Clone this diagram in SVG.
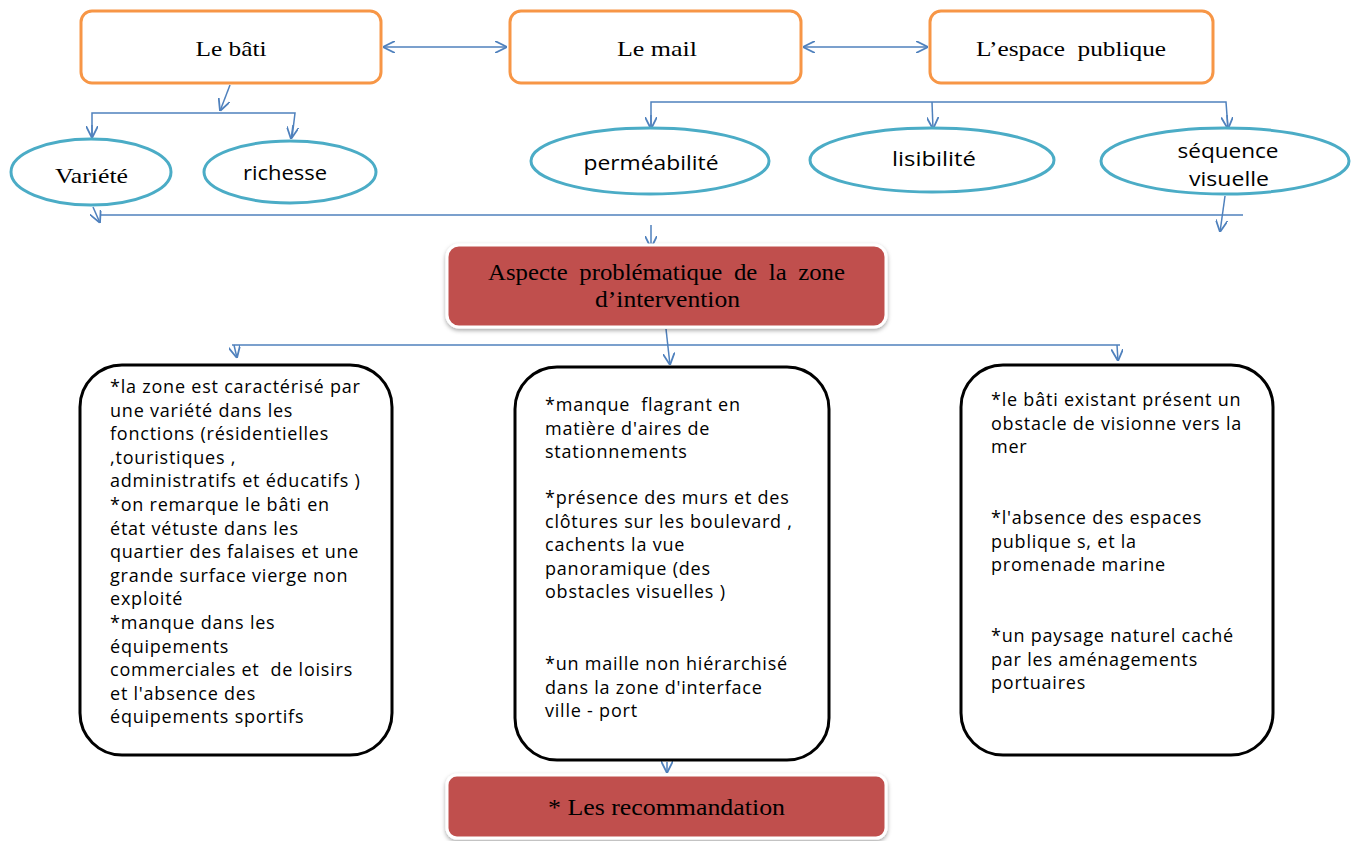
<svg xmlns="http://www.w3.org/2000/svg" width="1351" height="841" viewBox="0 0 1351 841">
<style>
.top{fill:#fff;stroke:#F79646;stroke-width:3}
.ell{fill:#fff;stroke:#4BACC6;stroke-width:3}
.red{fill:#C0504D;stroke:#fff;stroke-width:3}
.blk{fill:#fff;stroke:#000;stroke-width:3}
.ser{font-family:"Liberation Serif",serif;fill:#000;text-anchor:middle}
.sans{font-family:"Open Sans","Liberation Sans",sans-serif;fill:#000;text-anchor:middle}
.c{fill:none;stroke:#4F81BD;stroke-width:1.5}
.body{font-family:"Open Sans","Liberation Sans",sans-serif;font-size:18px;letter-spacing:0.78px;fill:#000}
</style>
<defs>
<marker id="ah" markerWidth="12" markerHeight="12" refX="10" refY="5" orient="auto-start-reverse" markerUnits="userSpaceOnUse" viewBox="0 0 10 10">
<path d="M0,0 L10,5 L0,10" fill="none" stroke="#4F81BD" stroke-width="1.5"/>
</marker>
<filter id="sh" x="-10%" y="-20%" width="120%" height="150%">
<feDropShadow dx="0" dy="2" stdDeviation="2" flood-color="#000" flood-opacity="0.35"/>
</filter>
</defs>
<rect width="1351" height="841" fill="#fff"/>

<g id="connectors">
<line class="c" x1="383" y1="47" x2="507" y2="47" marker-start="url(#ah)" marker-end="url(#ah)"/>
<line class="c" x1="803" y1="47" x2="928" y2="47" marker-start="url(#ah)" marker-end="url(#ah)"/>
<line class="c" x1="230" y1="85" x2="220" y2="111" marker-end="url(#ah)"/>
<polyline class="c" points="92,138 92,113 295,113 292,138"/>
<line class="c" x1="92" y1="125" x2="92" y2="138" marker-end="url(#ah)"/>
<line class="c" x1="293" y1="125" x2="291" y2="139" marker-end="url(#ah)"/>
<polyline class="c" points="651,129 651,102 1226,102 1228,129"/>
<line class="c" x1="651" y1="115" x2="651" y2="129" marker-end="url(#ah)"/>
<line class="c" x1="932" y1="102" x2="933" y2="129" marker-end="url(#ah)"/>
<line class="c" x1="1227" y1="115" x2="1228" y2="129" marker-end="url(#ah)"/>
<line class="c" x1="93" y1="207" x2="100" y2="223" marker-end="url(#ah)"/>
<line class="c" x1="100" y1="215" x2="1243" y2="215"/>
<line class="c" x1="1225" y1="196" x2="1220" y2="232" marker-end="url(#ah)"/>
<line class="c" x1="651" y1="225" x2="651" y2="248" marker-end="url(#ah)"/>
<line class="c" x1="666" y1="329" x2="670" y2="365" marker-end="url(#ah)"/>
<line class="c" x1="232" y1="345" x2="1120" y2="345"/>
<line class="c" x1="234" y1="345" x2="237" y2="358" marker-end="url(#ah)"/>
<line class="c" x1="1117" y1="345" x2="1118" y2="361" marker-end="url(#ah)"/>
<line class="c" x1="667" y1="762" x2="667" y2="773" marker-end="url(#ah)"/>
</g>

<g id="n-bati">
<rect class="top" x="81" y="11" width="300" height="72" rx="11"/>
<text class="ser" x="231" y="56" font-size="22" textLength="71" lengthAdjust="spacingAndGlyphs">Le bâti</text>
</g>
<g id="n-mail">
<rect class="top" x="510" y="11" width="291" height="72" rx="11"/>
<text class="ser" x="657" y="56" font-size="22" textLength="80" lengthAdjust="spacingAndGlyphs">Le mail</text>
</g>
<g id="n-espace">
<rect class="top" x="930" y="11" width="283" height="72" rx="11"/>
<text class="ser" x="1071" y="56" font-size="22" textLength="190" lengthAdjust="spacingAndGlyphs" xml:space="preserve">L’espace  publique</text>
</g>

<g id="n-variete">
<ellipse class="ell" cx="91" cy="172" rx="80" ry="33"/>
<text class="ser" x="91.5" y="183" font-size="22" textLength="73" lengthAdjust="spacingAndGlyphs">Variété</text>
</g>
<g id="n-richesse">
<ellipse class="ell" cx="290" cy="172" rx="86" ry="31"/>
<text class="sans" x="285" y="180" font-size="20" textLength="84" lengthAdjust="spacingAndGlyphs">richesse</text>
</g>
<g id="n-permeabilite">
<ellipse class="ell" cx="650" cy="161" rx="119" ry="33"/>
<text class="sans" x="651" y="170" font-size="20" textLength="135" lengthAdjust="spacingAndGlyphs">perméabilité</text>
</g>
<g id="n-lisibilite">
<ellipse class="ell" cx="932" cy="160" rx="122" ry="32"/>
<text class="sans" x="934" y="166" font-size="20" textLength="84" lengthAdjust="spacingAndGlyphs">lisibilité</text>
</g>
<g id="n-sequence">
<ellipse class="ell" cx="1225" cy="161" rx="124" ry="33"/>
<text class="sans" x="1228" y="158" font-size="20" textLength="101" lengthAdjust="spacingAndGlyphs">séquence</text>
<text class="sans" x="1229" y="186" font-size="20" textLength="80" lengthAdjust="spacingAndGlyphs">visuelle</text>
</g>

<g id="n-aspecte">
<rect class="red" x="447" y="245" width="439" height="82" rx="12" filter="url(#sh)"/>
<text class="ser" x="666.5" y="280" font-size="23" word-spacing="5" textLength="357" lengthAdjust="spacingAndGlyphs">Aspecte problématique de la zone</text>
<text class="ser" x="667.5" y="307" font-size="23" textLength="145" lengthAdjust="spacingAndGlyphs">d’intervention</text>
</g>

<g id="n-left">
<rect class="blk" x="80" y="365" width="312" height="390" rx="42"/>
<text class="body" xml:space="preserve"><tspan x="110" y="393">*la zone est caractérisé par</tspan><tspan x="110" y="416.6">une variété dans les</tspan><tspan x="110" y="440.2">fonctions (résidentielles</tspan><tspan x="110" y="463.8">,touristiques ,</tspan><tspan x="110" y="487.4">administratifs et éducatifs )</tspan><tspan x="110" y="511">*on remarque le bâti en</tspan><tspan x="110" y="534.6">état vétuste dans les</tspan><tspan x="110" y="558.2">quartier des falaises et une</tspan><tspan x="110" y="581.8">grande surface vierge non</tspan><tspan x="110" y="605.4">exploité</tspan><tspan x="110" y="629">*manque dans les</tspan><tspan x="110" y="652.6">équipements</tspan><tspan x="110" y="676.2">commerciales et  de loisirs</tspan><tspan x="110" y="699.8">et l'absence des</tspan><tspan x="110" y="723.4">équipements sportifs</tspan></text>
</g>

<g id="n-middle">
<rect class="blk" x="515" y="367" width="314" height="393" rx="42"/>
<text class="body" xml:space="preserve"><tspan x="545" y="411">*manque  flagrant en</tspan><tspan x="545" y="434.6">matière d'aires de</tspan><tspan x="545" y="458.2">stationnements</tspan><tspan x="545" y="504">*présence des murs et des</tspan><tspan x="545" y="527.6">clôtures sur les boulevard ,</tspan><tspan x="545" y="551.2">cachents la vue</tspan><tspan x="545" y="574.8">panoramique (des</tspan><tspan x="545" y="598.4">obstacles visuelles )</tspan><tspan x="545" y="670">*un maille non hiérarchisé</tspan><tspan x="545" y="693.6">dans la zone d'interface</tspan><tspan x="545" y="717.2">ville - port</tspan></text>
</g>

<g id="n-right">
<rect class="blk" x="961" y="365" width="312" height="390" rx="42"/>
<text class="body" xml:space="preserve"><tspan x="991" y="406">*le bâti existant présent un</tspan><tspan x="991" y="429.6">obstacle de visionne vers la</tspan><tspan x="991" y="453.2">mer</tspan><tspan x="991" y="524">*l'absence des espaces</tspan><tspan x="991" y="547.6">publique s, et la</tspan><tspan x="991" y="571.2">promenade marine</tspan><tspan x="991" y="642">*un paysage naturel caché</tspan><tspan x="991" y="665.6">par les aménagements</tspan><tspan x="991" y="689.2">portuaires</tspan></text>
</g>

<g id="n-recommandation">
<rect class="red" x="447" y="775" width="439" height="63" rx="10" filter="url(#sh)"/>
<text class="ser" x="666.5" y="815" font-size="23" textLength="237" lengthAdjust="spacingAndGlyphs">* Les recommandation</text>
</g>
</svg>
